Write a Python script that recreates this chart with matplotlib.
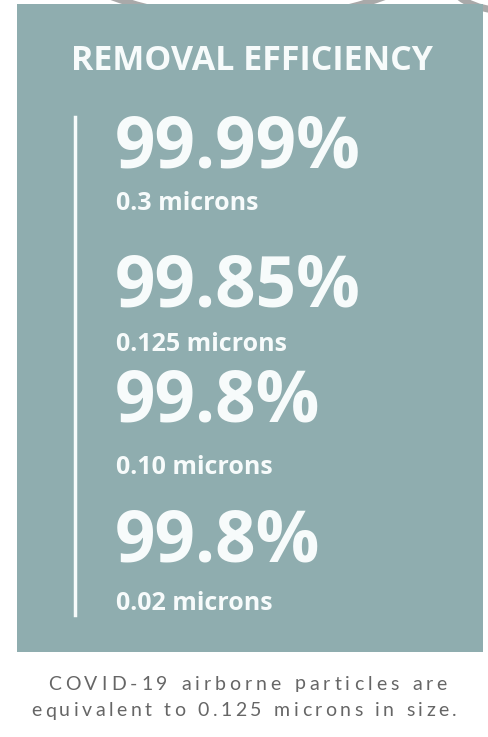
import matplotlib
matplotlib.use("Agg")
import matplotlib.pyplot as plt
from matplotlib.patches import Rectangle, Arc
from matplotlib.lines import Line2D

title = "REMOVAL EFFICIENCY"
efficiencies = ["99.99%", "99.85%", "99.8%", "99.8%"]
sizes = ["0.3 microns", "0.125 microns", "0.10 microns", "0.02 microns"]
footnote = ["COVID-19 airborne particles are", "equivalent to 0.125 microns in size."]

W, H = 489, 737
fig = plt.figure(figsize=(W / 100, H / 100), dpi=100)
ax = fig.add_axes([0, 0, 1, 1])
ax.set_xlim(0, W)
ax.set_ylim(H, 0)
ax.axis("off")
fig.patch.set_facecolor("white")

panel_col = "#8FADAF"
txt_col = "#F7FBFB"

# faint watermark arcs at top (mostly hidden behind the panel)
ax.add_patch(Arc((248, -150), 540, 340, theta1=20, theta2=160, color="#A9A9A9", lw=5, zorder=0))
ax.add_patch(Arc((500, -30), 110, 80, theta1=100, theta2=180, color="#A9A9A9", lw=5, zorder=0))

ax.add_patch(Rectangle((17, 4), 466, 648, facecolor=panel_col, edgecolor="none", zorder=1))

ax.text(252, 61, title, ha="center", va="center", fontsize=24.5, fontweight="bold",
        family="Open Sans", color=txt_col, zorder=3)

ax.add_line(Line2D([75, 75], [117, 615], color=txt_col, lw=2.5, zorder=3))

num_base = [167, 306, 421, 562]
sub_y = [203, 344, 467, 603]
for e, s, yb, ys in zip(efficiencies, sizes, num_base, sub_y):
    ax.text(115, yb, e, ha="left", va="baseline", fontsize=51, fontweight="bold",
            family="Open Sans", color=txt_col, zorder=3)
    ax.text(116, ys, s, ha="left", va="center", fontsize=18, fontweight="bold",
            family="Open Sans", color=txt_col, zorder=3)

# footnote with letter spacing fitted to a target width
fig.canvas.draw()
renderer = fig.canvas.get_renderer()

def spaced_text(s, x0, x1, y, size):
    widths = []
    for ch in s:
        t = ax.text(0, 0, ch if ch != " " else "n", fontsize=size, family="Lato")
        bb = t.get_window_extent(renderer)
        widths.append(bb.width * (0.5 if ch == " " else 1.0))
        t.remove()
    spacing = ((x1 - x0) - sum(widths)) / (len(s) - 1)
    x = x0
    for ch, w in zip(s, widths):
        if ch != " ":
            ax.text(x, y, ch, ha="left", va="center", fontsize=size, family="Lato",
                    color="#666666", zorder=3)
        x += w + spacing

spaced_text(footnote[0], 48, 447, 684, 14)
spaced_text(footnote[1], 31, 457, 711, 14)

fig.savefig("out.png", dpi=100, facecolor="white")
